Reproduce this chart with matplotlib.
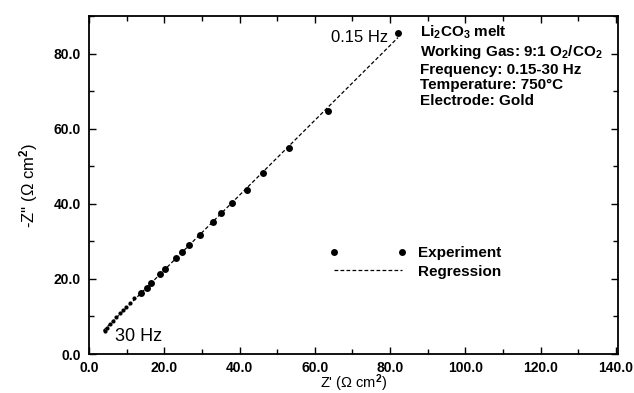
import matplotlib
matplotlib.use('Agg')
import matplotlib.pyplot as plt
import numpy as np
from matplotlib.ticker import MultipleLocator, FormatStrFormatter

plt.rcParams['font.family'] = ['Liberation Sans', 'DejaVu Sans']
plt.rcParams['font.weight'] = 'bold'
plt.rcParams['mathtext.fontset'] = 'custom'
plt.rcParams['mathtext.rm'] = 'Liberation Sans:bold'
plt.rcParams['mathtext.it'] = 'Liberation Sans:bold'
plt.rcParams['mathtext.bf'] = 'Liberation Sans:bold'

# Impedance readings, high frequency (30 Hz) -> low frequency (0.15 Hz)
z_real = np.array([4.3, 4.9, 5.5, 6.4, 7.3, 8.2, 9.0, 9.9, 10.8, 12.0,
                   13.7, 15.3, 16.6, 18.8, 20.3, 23.0, 24.7, 26.6, 29.4,
                   33.0, 35.2, 38.1, 41.9, 46.3, 53.1, 63.5, 82.1])
z_imag = np.array([6.1, 7.0, 7.9, 8.9, 9.8, 10.8, 11.7, 12.6, 13.5, 14.8,
                   16.2, 17.7, 19.0, 21.3, 22.7, 25.5, 27.1, 29.1, 31.6,
                   35.2, 37.5, 40.2, 43.8, 48.3, 54.9, 64.8, 85.6])
n_small = 10  # first points printed smaller in the original

slope, icept = np.polyfit(z_real, z_imag, 1)
x_fit = np.linspace(z_real.min() - 0.5, z_real.max(), 50)

fig = plt.figure(figsize=(6.34, 3.93), dpi=100)
ax = fig.add_axes([0.1404, 0.0992, 0.8346, 0.8598])

ax.plot(x_fit, slope * x_fit + icept, ls=(0, (3, 1.8)), lw=0.9, c='black',
        label='Regression', zorder=2)
ax.plot(z_real[:n_small], z_imag[:n_small], 'o', ms=3, c='black', mew=0, zorder=3)
ax.plot(z_real[n_small:], z_imag[n_small:], 'o', ms=5, c='black', mew=0, zorder=3,
        label='Experiment')

ax.set_xlim(0, 140.6)
ax.set_ylim(0, 90)
ax.xaxis.set_major_locator(MultipleLocator(20))
ax.xaxis.set_minor_locator(MultipleLocator(10))
ax.yaxis.set_major_locator(MultipleLocator(20))
ax.yaxis.set_minor_locator(MultipleLocator(10))
ax.xaxis.set_major_formatter(FormatStrFormatter('%.1f'))
ax.yaxis.set_major_formatter(FormatStrFormatter('%.1f'))
ax.tick_params(which='both', direction='in', top=True, right=True, width=1,
               labelsize=10)
ax.tick_params(which='major', length=5, pad=6)
ax.tick_params(axis='x', which='major', pad=5)
ax.tick_params(which='minor', length=3.5)
for s in ax.spines.values():
    s.set_linewidth(1.3)

ax.set_xlabel("Z' (\u03a9 cm$^2$)", fontsize=10.5, labelpad=-2)
ax.set_ylabel("-Z'' (\u03a9 cm$^2$)", fontsize=12, labelpad=10)

ax.text(79.5, 84.3, '0.15 Hz', ha='right', va='center', fontsize=12, fontweight='normal')
ax.text(6.9, 4.6, '30 Hz', ha='left', va='center', fontsize=13, fontweight='normal')

info = ('Li$_2$CO$_3$ melt\n'
        'Working Gas: 9:1 O$_2$/CO$_2$\n'
        'Frequency: 0.15-30 Hz\n'
        'Temperature: 750\u00b0C\n'
        'Electrode: Gold')
ax.text(88.0, 88.0, info, ha='left', va='top', fontsize=11, linespacing=1.15)

h, l = ax.get_legend_handles_labels()
ax.legend(h[::-1], l[::-1], loc='center left', bbox_to_anchor=(0.455, 0.271),
          frameon=False, numpoints=2, handlelength=5.0, handletextpad=0.8,
          borderpad=0, borderaxespad=0, labelspacing=0.3, fontsize=11)

fig.savefig('out.png', dpi=100)
